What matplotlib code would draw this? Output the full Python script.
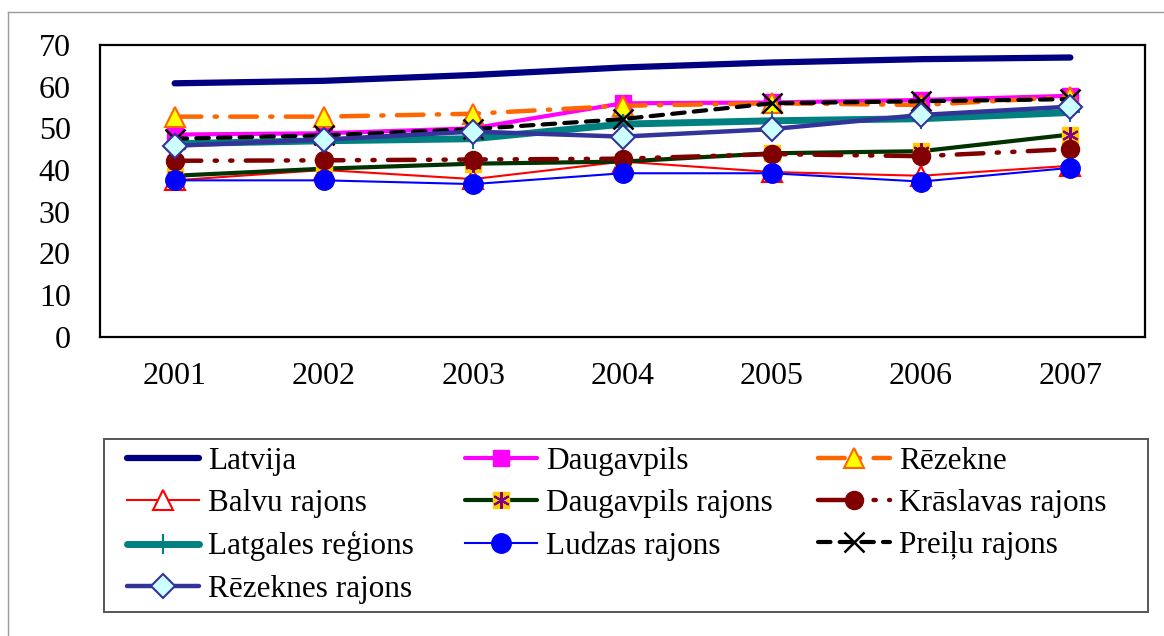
import matplotlib
matplotlib.use("Agg")
import matplotlib.pyplot as plt
from matplotlib.lines import Line2D
from matplotlib.patches import Rectangle

plt.rcParams['font.family'] = ['Liberation Serif', 'DejaVu Serif']

years = ['2001', '2002', '2003', '2004', '2005', '2006', '2007']
latvija = [60.8, 61.4, 62.8, 64.6, 65.8, 66.6, 67.0]
daugavpils = [48.5, 48.8, 50.0, 56.0, 56.2, 56.8, 57.8]
rezekne = [52.8, 52.8, 53.5, 55.4, 56.0, 55.6, 57.5]
balvu = [37.5, 40.0, 37.8, 42.0, 39.5, 38.6, 41.0]
daugavpils_raj = [38.6, 40.3, 41.5, 42.0, 44.0, 44.5, 48.5]
kraslavas = [42.2, 42.3, 42.5, 42.7, 43.8, 43.3, 45.0]
latgales = [46.3, 47.0, 47.5, 51.0, 51.8, 52.3, 53.8]
ludzas = [37.5, 37.5, 36.6, 39.2, 39.2, 37.2, 40.5]
preilu = [47.5, 48.3, 49.8, 52.2, 56.0, 56.5, 57.0]
rezeknes_raj = [45.8, 47.3, 49.2, 48.0, 49.8, 53.2, 55.2]

fig = plt.figure(figsize=(11.64, 6.36), dpi=100)
ax = fig.add_axes([100/1164, 1 - 336.5/636, 1045/1164, 291.5/636])
x = list(range(len(years)))

h = {}
h['Latvija'] = ax.plot(x, latvija, color='#000080', lw=4.5, solid_capstyle='round')[0]
h['Daugavpils'] = ax.plot(x, daugavpils, color='#FF00FF', lw=3, marker='s', ms=12,
                          mfc='#FF00FF', mec='#FF00FF', solid_capstyle='round')[0]
h['Rēzekne'] = ax.plot(x, rezekne, color='#FF6600', lw=3.2, dashes=(6, 3, 0.5, 3),
                       dash_capstyle='round', marker='^', ms=15, mfc='#FFFF00', mec='#FF6600', mew=1.5)[0]
h['Balvu rajons'] = ax.plot(x, balvu, color='#FF0000', lw=1.5, marker='^', ms=14,
                            mfc='white', mec='#FF0000', mew=1.5)[0]
dr_line = ax.plot(x, daugavpils_raj, color='#003300', lw=3, marker='s', ms=12,
                  mfc='#FFCC00', mec='#FFCC00', solid_capstyle='round')[0]
dr_star = ax.plot(x, daugavpils_raj, ls='none', marker=(6, 2, 0), ms=12, mec='#800080', mew=1.5)[0]
h['Daugavpils rajons'] = (dr_line, dr_star)
h['Krāslavas rajons'] = ax.plot(x, kraslavas, color='#800000', lw=3.2, dashes=(6, 3, 0.5, 3, 0.5, 3),
                                dash_capstyle='round', marker='o', ms=13, mfc='#800000', mec='#800000')[0]
h['Latgales reģions'] = ax.plot(x, latgales, color='#008080', lw=5, marker='+', ms=14, mew=1.5,
                                mec='#008080', solid_capstyle='round')[0]
h['Ludzas rajons'] = ax.plot(x, ludzas, color='#0000FF', lw=1.5, marker='o', ms=14,
                             mfc='#0000FF', mec='#0000FF')[0]
h['Preiļu rajons'] = ax.plot(x, preilu, color='black', lw=3, dashes=(3, 2.2), dash_capstyle='round',
                             marker='x', ms=15, mew=1.8, mec='black')[0]
h['Rēzeknes rajons'] = ax.plot(x, rezeknes_raj, color='#333399', lw=3.2, marker='D', ms=12,
                               mfc='#CCFFFF', mec='#333399', mew=1.5, solid_capstyle='round')[0]

ax.set_xlim(-0.5, len(years) - 0.5)
ax.set_ylim(0, 70)
ax.set_yticks(range(0, 71, 10))
ax.set_xticks(x)
ax.set_xticklabels(years)
ax.tick_params(length=0, labelsize=23, colors='black')
ax.tick_params(axis='y', pad=21)
ax.tick_params(axis='x', pad=18)
for s in ax.spines.values():
    s.set_linewidth(1.6)
    s.set_color('black')

# legend: three columns placed like the original
cols = [['Latvija', 'Balvu rajons', 'Latgales reģions', 'Rēzeknes rajons'],
        ['Daugavpils', 'Daugavpils rajons', 'Ludzas rajons'],
        ['Rēzekne', 'Krāslavas rajons', 'Preiļu rajons']]
col_x = [127, 465, 818]
for names, cx in zip(cols, col_x):
    fig.legend([h[n] for n in names], names, loc='upper left',
               bbox_to_anchor=(cx/1164, 1 - 447/636), frameon=False, fontsize=22.5,
               handlelength=2.3, handletextpad=0.3, labelspacing=0.42, borderpad=0,
               borderaxespad=0)

fig.add_artist(Rectangle((104/1164, 1 - 612/636), 1044/1164, 173/636, transform=fig.transFigure,
                         fill=False, ec='#555555', lw=1.4))
fig.add_artist(Line2D([8/1164, 8/1164], [0, 1 - 12/636], transform=fig.transFigure, color='#999999', lw=1))
fig.add_artist(Line2D([8/1164, 1], [1 - 12/636, 1 - 12/636], transform=fig.transFigure, color='#999999', lw=1))

fig.savefig('out.png', dpi=100)
